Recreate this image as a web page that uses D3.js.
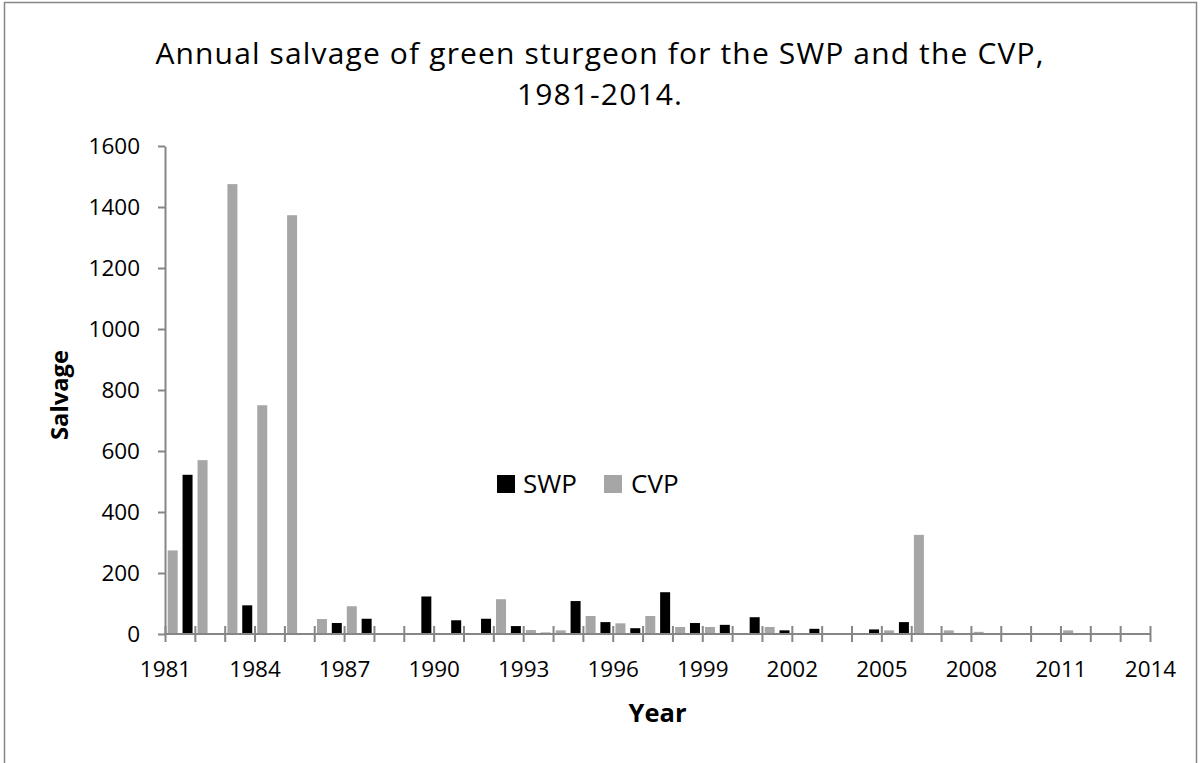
<!DOCTYPE html>
<html>
<head>
<meta charset="utf-8">
<script src="https://cdn.jsdelivr.net/npm/d3@7"></script>
<style>
  html, body { margin: 0; padding: 0; background: #fff; }
  svg { display: block; font-family: "Open Sans", sans-serif; }
</style>
</head>
<body>
<svg id="chart" width="1200" height="763"></svg>
<script>
// categories
const years = d3.range(1981, 2015);
const seriesNames = ["SWP", "CVP"];

// annual salvage
const swp = [0, 522, 0, 94, 3, 0, 36, 50, 0, 123, 45, 50, 26, 4, 108, 39, 19, 137, 36, 30,
  55, 12, 17, 0, 15, 39, 3, 0, 0, 0, 2, 0, 0, 0];
const cvp = [274, 570, 1475, 750, 1373, 49, 91, 0, 0, 0, 0, 114, 13, 12, 59, 35, 59, 23, 23, 0,
  23, 0, 0, 0, 12, 325, 12, 7, 0, 0, 12, 0, 0, 0];

// tick labels
const yTicks = [0, 200, 400, 600, 800, 1000, 1200, 1400, 1600];
const xLabelYears = [1981, 1984, 1987, 1990, 1993, 1996, 1999, 2002, 2005, 2008, 2011, 2014];

const titleLines = ["Annual salvage of green sturgeon for the SWP and the CVP,", "1981-2014."];

const colors = { SWP: "#000000", CVP: "#A6A6A6" };
const axisColor = "#868686";

const svg = d3.select("#chart");

// outer chart border
svg.append("rect")
  .attr("x", 4.5).attr("y", 2.5)
  .attr("width", 1192).attr("height", 800)
  .attr("fill", "#fff")
  .attr("stroke", axisColor)
  .attr("stroke-width", 1.5);

const plot = { left: 165, right: 1150, top: 146, bottom: 634 };

const x = d3.scalePoint().domain(years).range([plot.left, plot.right]);
const inner = d3.scaleBand().domain(seriesNames).range([-12.3, 12.7]).paddingInner(1 / 3);
const y = d3.scaleLinear().domain([0, 1600]).range([plot.bottom, plot.top]);

// fit a text element's font size so it spans a given width
function fitText(sel, target) {
  const w = sel.node().getComputedTextLength();
  const fs = parseFloat(sel.attr("font-size"));
  sel.attr("font-size", (fs * target / w).toFixed(2));
}

// title
const titleSize = 30;
const t1 = svg.append("text")
  .attr("x", 600).attr("y", 64)
  .attr("text-anchor", "middle")
  .attr("font-size", titleSize)
  .attr("fill", "#000")
  .text(titleLines[0]);
const natural = t1.node().getComputedTextLength();
const spacing = Math.max(0, (889 - natural) / titleLines[0].length).toFixed(2);
t1.attr("letter-spacing", spacing);
svg.append("text")
  .attr("x", 600).attr("y", 105)
  .attr("text-anchor", "middle")
  .attr("font-size", titleSize)
  .attr("letter-spacing", spacing)
  .attr("fill", "#000")
  .text(titleLines[1]);

// bars
svg.append("clipPath").attr("id", "plotClip")
  .append("rect")
  .attr("x", plot.left).attr("y", plot.top - 10)
  .attr("width", plot.right - plot.left).attr("height", plot.bottom - plot.top + 10);

const table = years.map((yr, i) => ({ year: yr, SWP: swp[i], CVP: cvp[i] }));

const bars = svg.append("g").attr("clip-path", "url(#plotClip)");
seriesNames.forEach((s) => {
  bars.selectAll(".bar-" + s)
    .data(table)
    .enter()
    .append("rect")
    .attr("class", "bar-" + s)
    .attr("x", (d) => x(d.year) + inner(s))
    .attr("width", inner.bandwidth())
    .attr("y", (d) => y(d[s]))
    .attr("height", (d) => y(0) - y(d[s]))
    .attr("fill", colors[s]);
});

// y axis
const yAxis = svg.append("g")
  .attr("transform", `translate(${plot.left},0)`)
  .call(d3.axisLeft(y)
    .tickValues(yTicks)
    .tickFormat(d3.format("d"))
    .tickSize(7)
    .tickSizeOuter(0)
    .tickPadding(18));
yAxis.select(".domain").attr("stroke", axisColor).attr("stroke-width", 2);
yAxis.selectAll(".tick line").attr("stroke", axisColor).attr("stroke-width", 2);
yAxis.selectAll(".tick text")
  .attr("font-size", 22.5)
  .attr("font-family", "Open Sans, sans-serif")
  .attr("fill", "#000");

// x axis, ticks crossing the line
const xAxis = svg.append("g")
  .attr("transform", `translate(0,${plot.bottom})`)
  .call(d3.axisBottom(x)
    .tickValues(years)
    .tickSizeOuter(0)
    .tickFormat((d) => (xLabelYears.includes(d) ? d : "")));
xAxis.select(".domain").attr("stroke", axisColor).attr("stroke-width", 2)
  .attr("d", `M${plot.left},0H${plot.right}`);
xAxis.selectAll(".tick line")
  .attr("stroke", axisColor).attr("stroke-width", 2)
  .attr("y1", -8).attr("y2", 8);
xAxis.selectAll(".tick text")
  .attr("y", 43).attr("dy", null)
  .attr("font-size", 22.5)
  .attr("font-family", "Open Sans, sans-serif")
  .attr("fill", "#000");

// axis titles
const xt = svg.append("text")
  .attr("x", (plot.left + plot.right) / 2).attr("y", 722)
  .attr("text-anchor", "middle")
  .attr("font-weight", "bold")
  .attr("font-size", 24)
  .text("Year");
fitText(xt, 58);

const yt = svg.append("text")
  .attr("transform", "translate(68,395) rotate(-90)")
  .attr("text-anchor", "middle")
  .attr("font-weight", "bold")
  .attr("font-size", 24)
  .text("Salvage");
fitText(yt, 90);

// legend
const legendItems = [
  { name: "SWP", sx: 497, tx: 523 },
  { name: "CVP", sx: 604, tx: 631 },
];
const legend = svg.append("g");
legendItems.forEach((it) => {
  legend.append("rect")
    .attr("x", it.sx).attr("y", 475)
    .attr("width", 18).attr("height", 18)
    .attr("fill", colors[it.name]);
  legend.append("text")
    .attr("x", it.tx).attr("y", 493)
    .attr("font-size", 26)
    .attr("fill", "#000")
    .text(it.name);
});
</script>
</body>
</html>
